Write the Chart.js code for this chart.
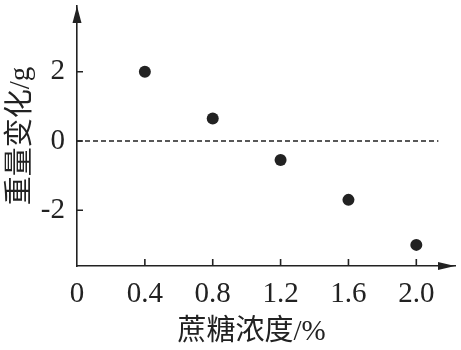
<!DOCTYPE html>
<html>
<head>
<meta charset="utf-8">
<script src="https://cdn.jsdelivr.net/npm/chart.js@4.4.1/dist/chart.umd.min.js"></script>
<style>
  html, body { margin: 0; padding: 0; background: #fff; }
  #wrap { width: 461px; height: 350px; }
</style>
</head>
<body>
<div id="wrap"><canvas id="chart"></canvas></div>
<script>
/* ── Données ── */
const concentration = [0.4, 0.8, 1.2, 1.6, 2.0];      // 蔗糖浓度 %
const weightChange = [2.0, 0.65, -0.55, -1.7, -3.0];  // 重量变化 g
const xTicks = [0, 0.4, 0.8, 1.2, 1.6, 2.0];
const xTickLabels = ["0", "0.4", "0.8", "1.2", "1.6", "2.0"];
const yTicks = [-2, 0, 2];
const refLineX = [0, 2.13];  // ligne pointillée y = 0

const ink = "#222";
const serif = "'Liberation Serif', 'Times New Roman', serif";
const cjk = "'Liberation Serif', 'Noto Sans CJK SC', serif";

/* flèches + graduations intérieures */
const axisDeco = {
  id: "axisDeco",
  afterDraw(chart) {
    const { ctx, chartArea: a, scales: { x, y } } = chart;
    const ox = a.left, oy = a.bottom;
    ctx.save();
    ctx.strokeStyle = ink;
    ctx.fillStyle = ink;
    ctx.lineWidth = 1.6;
    ctx.beginPath();
    yTicks.forEach((v) => {
      const py = y.getPixelForValue(v);
      ctx.moveTo(ox, py);
      ctx.lineTo(ox + 6, py);
    });
    xTicks.forEach((v) => {
      if (v === 0) return;
      const px = x.getPixelForValue(v);
      ctx.moveTo(px, oy);
      ctx.lineTo(px, oy - 7);
    });
    ctx.stroke();
    // flèche verticale
    ctx.beginPath();
    ctx.moveTo(ox, a.top);
    ctx.lineTo(ox - 4.5, a.top + 17);
    ctx.lineTo(ox + 4.5, a.top + 17);
    ctx.closePath();
    ctx.fill();
    // flèche horizontale
    ctx.beginPath();
    ctx.moveTo(a.right, oy);
    ctx.lineTo(a.right - 17, oy - 4);
    ctx.lineTo(a.right - 17, oy + 4);
    ctx.closePath();
    ctx.fill();
    ctx.restore();
  },
};

new Chart(document.getElementById("chart"), {
  type: "scatter",
  data: {
    datasets: [
      {
        data: concentration.map((c, i) => ({ x: c, y: weightChange[i] })),
        pointRadius: 6,
        pointBackgroundColor: ink,
        pointBorderColor: ink,
        pointBorderWidth: 0,
      },
      {
        type: "line",
        data: refLineX.map((v) => ({ x: v, y: 0 })),
        borderColor: ink,
        borderWidth: 1.6,
        borderDash: [5, 3],
        pointRadius: 0,
        fill: false,
      },
    ],
  },
  options: {
    responsive: true,
    maintainAspectRatio: false,
    animation: false,
    layout: { padding: { left: 0, right: 3, top: 4, bottom: 0 } },
    plugins: {
      legend: { display: false },
      tooltip: { enabled: false },
    },
    scales: {
      x: {
        type: "linear",
        min: 0,
        max: 2.228,
        afterBuildTicks: (s) => { s.ticks = xTicks.map((v) => ({ value: v })); },
        afterFit: (s) => { s.height = 84; s.paddingLeft = 0; s.paddingRight = 0; },
        ticks: {
          padding: 11,
          color: ink,
          font: { family: serif, size: 29 },
          maxRotation: 0,
          autoSkip: false,
          callback: (v) => xTickLabels[xTicks.indexOf(v)],
        },
        grid: { display: false, drawTicks: false },
        border: { display: true, color: ink, width: 1.6 },
        title: {
          display: true,
          text: "蔗糖浓度/%\u3000",
          color: ink,
          font: { family: cjk, size: 29 },
          padding: { top: 0, bottom: 0 },
        },
      },
      y: {
        min: -3.61,
        max: 3.9,
        afterBuildTicks: (s) => { s.ticks = yTicks.map((v) => ({ value: v })); },
        afterFit: (s) => { s.width = 77; s.paddingTop = 0; s.paddingBottom = 0; },
        ticks: {
          padding: 12,
          color: ink,
          font: { family: serif, size: 29 },
        },
        grid: { display: false, drawTicks: false },
        border: { display: true, color: ink, width: 1.6 },
        title: {
          display: true,
          text: "重量变化/g",
          color: ink,
          font: { family: cjk, size: 29 },
          padding: { top: 4, bottom: 4 },
        },
      },
    },
  },
  plugins: [axisDeco],
});
</script>
</body>
</html>
